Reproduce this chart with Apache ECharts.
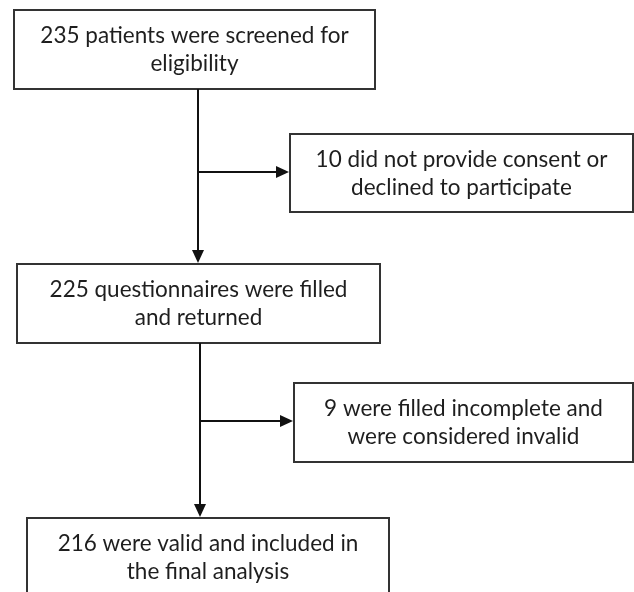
<!DOCTYPE html>
<html>
<head>
<meta charset="utf-8">
<script src="https://cdn.jsdelivr.net/npm/echarts@6/dist/echarts.min.js"></script>
<style>
  html, body { margin: 0; padding: 0; background: #fff; }
  #chart { width: 634px; height: 592px; }
</style>
</head>
<body>
<div id="chart"></div>
<script>
  // == box texts ==
  const boxTexts = [
    '235 patients were screened for\neligibility',
    '10 did not provide consent or\ndeclined to participate',
    '225 questionnaires were filled\nand returned',
    '9 were filled incomplete and\nwere considered invalid',
    '216 were valid and included in\nthe final analysis',
  ];
  // == box corners (x0, y0, x1, y1) in page units ==
  const boxX0 = [14, 290, 17, 294, 27];
  const boxY0 = [10, 134, 264, 383, 518];
  const boxX1 = [375, 633, 380, 633, 389];
  const boxY1 = [89, 212, 343, 462, 610];
  // == arrows: from (x0,y0) to (x1,y1) ==
  const arrowFrom = [[198, 89], [198, 172], [200, 343], [200, 421]];
  const arrowTo = [[198, 263], [289, 172], [200, 517], [293, 421]];

  const boxData = boxTexts.map((t, i) => [boxX0[i], boxY0[i], boxX1[i], boxY1[i], i]);
  const arrowData = arrowFrom.map((p, i) => [p[0], p[1], arrowTo[i][0], arrowTo[i][1]]);

  var myChart = echarts.init(document.getElementById('chart'));
  var option = {
    animation: false,
    grid: { left: 0, right: 0, top: 0, bottom: 0 },
    xAxis: { type: 'value', min: 0, max: 634, show: false },
    yAxis: { type: 'value', min: 0, max: 592, inverse: true, show: false },
    series: [
      {
        type: 'custom',
        clip: false,
        data: boxData,
        renderItem: function (params, api) {
          const a = api.coord([api.value(0), api.value(1)]);
          const b = api.coord([api.value(2), api.value(3)]);
          const idx = api.value(4);
          return {
            type: 'group',
            children: [
              {
                type: 'rect',
                shape: { x: a[0], y: a[1], width: b[0] - a[0], height: b[1] - a[1] },
                style: { fill: '#fff', stroke: '#333', lineWidth: 2 },
              },
              {
                type: 'text',
                x: (a[0] + b[0]) / 2,
                y: a[1] + 40,
                style: {
                  text: boxTexts[idx],
                  font: '22.5px Lato',
                  fill: '#1e1e1e',
                  align: 'center',
                  verticalAlign: 'middle',
                  lineHeight: 28,
                },
              },
            ],
          };
        },
      },
      {
        type: 'custom',
        clip: false,
        data: arrowData,
        renderItem: function (params, api) {
          const s = api.coord([api.value(0), api.value(1)]);
          const e = api.coord([api.value(2), api.value(3)]);
          const dx = e[0] - s[0], dy = e[1] - s[1];
          const len = Math.sqrt(dx * dx + dy * dy);
          const ux = dx / len, uy = dy / len;
          const hl = 13, hw = 6;
          const bx = e[0] - ux * hl, by = e[1] - uy * hl;
          return {
            type: 'group',
            children: [
              {
                type: 'line',
                shape: { x1: s[0], y1: s[1], x2: bx, y2: by },
                style: { stroke: '#111', lineWidth: 2 },
              },
              {
                type: 'polygon',
                shape: {
                  points: [
                    [e[0], e[1]],
                    [bx - uy * hw, by + ux * hw],
                    [bx + uy * hw, by - ux * hw],
                  ],
                },
                style: { fill: '#111' },
              },
            ],
          };
        },
      },
    ],
  };
  option && myChart.setOption(option);
</script>
</body>
</html>
